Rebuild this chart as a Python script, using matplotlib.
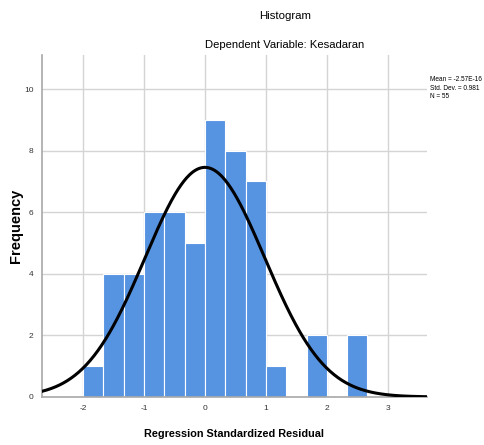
import numpy as np
import matplotlib
matplotlib.use("Agg")
import matplotlib.pyplot as plt

# histogram of regression standardized residuals
bin_edges = [-2.0, -1.667, -1.333, -1.0, -0.667, -0.333, 0.0, 0.333, 0.667,
             1.0, 1.333, 1.667, 2.0, 2.333, 2.667]
counts = [1, 4, 4, 6, 6, 5, 9, 8, 7, 1, 0, 2, 0, 2]
mean = -2.57e-16
std_dev = 0.981
n = 55
x_ticks = [-2, -1, 0, 1, 2, 3]
y_ticks = [0, 2, 4, 6, 8, 10]

plt.rcParams['font.family'] = ['Liberation Sans', 'DejaVu Sans']

fig = plt.figure(figsize=(4.85, 4.45), dpi=100)
ax = fig.add_axes([0.0866, 0.108, 0.7934, 0.768])

edges = np.array(bin_edges)
widths = np.diff(edges)
ax.bar(edges[:-1], counts, width=widths, align='edge', color='#5694e2',
       edgecolor='white', linewidth=0.8, zorder=2)

# normal curve scaled to the histogram
bw = widths.mean()
xs = np.linspace(-2.672, 3.64, 400)
ys = n * bw / (std_dev * np.sqrt(2 * np.pi)) * np.exp(-0.5 * ((xs - mean) / std_dev) ** 2)
ax.plot(xs, ys, color='black', linewidth=2.2, zorder=3)

ax.set_xlim(-2.672, 3.64)
ax.set_ylim(0, 11.1)
ax.set_xticks(x_ticks)
ax.set_yticks(y_ticks)
ax.set_xticklabels([str(t) for t in x_ticks])
ax.set_yticklabels([str(t) for t in y_ticks])
ax.tick_params(length=0, labelsize=6, colors='#333333', pad=6)
ax.grid(True, color='#d4d4d4', linewidth=1.0, zorder=0)
ax.set_axisbelow(True)

for s in ['top', 'right']:
    ax.spines[s].set_visible(False)
for s in ['left', 'bottom']:
    ax.spines[s].set_color('#a8a8a8')
    ax.spines[s].set_linewidth(1.2)

ax.set_xlabel('Regression Standardized Residual', fontsize=7.8, fontweight='bold', labelpad=12)
ax.set_ylabel('Frequency', fontsize=10.5, fontweight='bold', labelpad=1)

fig.text(0.587, 0.963, 'Histogram', ha='center', va='center', fontsize=8.2)
fig.text(0.587, 0.90, 'Dependent Variable: Kesadaran', ha='center', va='center', fontsize=8.1)

fig.text(0.886, 0.802, 'Mean = -2.57E-16\nStd. Dev. = 0.981\nN = 55',
         ha='left', va='center', fontsize=4.7, linespacing=1.3)

fig.savefig('out.png', dpi=100)
